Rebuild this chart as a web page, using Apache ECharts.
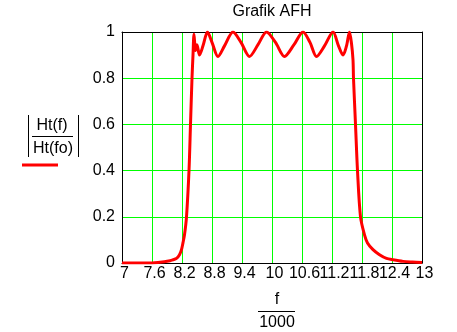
<!DOCTYPE html>
<html>
<head>
<meta charset="utf-8">
<script src="https://cdn.jsdelivr.net/npm/echarts@6/dist/echarts.min.js"></script>
<style>
  html, body { margin: 0; padding: 0; background: #fff; }
  #chart { width: 457px; height: 332px; }
</style>
</head>
<body>
<div id="chart"></div>
<script>
// Frequency axis values (f / 1000) and normalised magnitude |Ht(f)/Ht(fo)|
const freq = [
  7.00, 7.60, 7.72, 7.96, 8.02, 8.09, 8.15, 8.19, 8.22, 8.25, 8.29, 8.34, 8.37, 8.40,
  8.42, 8.44, 8.47, 8.50, 8.55, 8.62, 8.71, 8.80, 8.92, 9.05, 9.22, 9.38, 9.55, 9.72,
  9.89, 10.07, 10.25, 10.44, 10.62, 10.76, 10.89, 11.05, 11.22, 11.33, 11.42, 11.49,
  11.55, 11.59, 11.62, 11.63, 11.67, 11.71, 11.77, 11.85, 11.91, 12.02, 12.15, 12.29,
  12.42, 12.62, 12.81, 13.00
];
const amp = [
  0.000, 0.000, 0.002, 0.010, 0.014, 0.020, 0.036, 0.058, 0.088, 0.122, 0.200, 0.400, 0.600, 0.800,
  0.900, 0.990, 0.920, 0.945, 0.900, 0.940, 1.000, 0.955, 0.894, 0.940, 1.000, 0.955, 0.894, 0.945,
  1.000, 0.955, 0.894, 0.945, 1.000, 0.955, 0.894, 0.940, 1.000, 0.940, 0.900, 0.940,
  1.000, 0.950, 0.880, 0.800, 0.600, 0.400, 0.200, 0.122, 0.087, 0.058, 0.036, 0.020,
  0.014, 0.007, 0.004, 0.002
];
const xTicks = [7, 7.6, 8.2, 8.8, 9.4, 10, 10.6, 11.2, 11.8, 12.4, 13];
const yTicks = [0, 0.2, 0.4, 0.6, 0.8, 1];
const xStep = 0.6;
const yStep = 0.2;

const FONT = 'Liberation Sans, Arial, sans-serif';

function tickText(list, v) {
  let best = list[0];
  list.forEach(t => { if (Math.abs(t - v) < Math.abs(best - v)) best = t; });
  return String(best);
}

const chart = echarts.init(document.getElementById('chart'), null, { renderer: 'canvas' });

const plotLeft = 122, plotTop = 32, plotW = 300, plotH = 231;

chart.setOption({
  animation: false,
  backgroundColor: '#ffffff',
  grid: { left: plotLeft, top: plotTop, width: plotW, height: plotH, show: false },
  xAxis: [{
    type: 'value',
    min: xTicks[0], max: xTicks[xTicks.length - 1], interval: xStep,
    axisLine: { show: true, onZero: false, lineStyle: { color: '#000', width: 1 } },
    axisTick: { show: false },
    splitLine: { show: true, lineStyle: { color: '#00ff00', width: 1 } },
    axisLabel: {
      interval: 0, hideOverlap: false, showMinLabel: true, showMaxLabel: true,
      color: '#000', fontFamily: FONT, fontSize: 16, margin: 3, padding: [0, 0, 0, 5],
      formatter: v => tickText(xTicks, v)
    }
  }, {
    type: 'value', position: 'top',
    min: xTicks[0], max: xTicks[xTicks.length - 1], interval: xStep,
    axisLine: { show: true, onZero: false, lineStyle: { color: '#000', width: 1 } },
    axisTick: { show: false }, axisLabel: { show: false }, splitLine: { show: false }
  }],
  yAxis: [{
    type: 'value',
    min: yTicks[0], max: yTicks[yTicks.length - 1], interval: yStep,
    axisLine: { show: true, onZero: false, lineStyle: { color: '#000', width: 1 } },
    axisTick: { show: false },
    splitLine: { show: true, lineStyle: { color: '#00ff00', width: 1 } },
    axisLabel: {
      color: '#000', fontFamily: FONT, fontSize: 16, margin: 7, padding: [5, 0, 0, 0],
      showMinLabel: true, showMaxLabel: true,
      formatter: v => tickText(yTicks, v)
    }
  }, {
    type: 'value', position: 'right',
    min: yTicks[0], max: yTicks[yTicks.length - 1], interval: yStep,
    axisLine: { show: true, onZero: false, lineStyle: { color: '#000', width: 1 } },
    axisTick: { show: false }, axisLabel: { show: false }, splitLine: { show: false }
  }],
  series: [{
    type: 'line',
    data: freq.map((f, i) => [f, amp[i]]),
    showSymbol: false,
    smooth: 0.3,
    clip: true,
    lineStyle: { color: '#ff0000', width: 3 },
    z: 5
  }],
  graphic: [
    // chart title
    { type: 'text', x: 272, y: 12, style: { text: 'Grafik AFH', font: '16px ' + FONT, fill: '#000', textAlign: 'center', textVerticalAlign: 'middle' } },
    // vertical-axis expression |Ht(f) / Ht(fo)|
    { type: 'text', x: 52, y: 126, style: { text: 'Ht(f)', font: '16px ' + FONT, fill: '#000', textAlign: 'center', textVerticalAlign: 'middle' } },
    { type: 'line', shape: { x1: 32, y1: 136.5, x2: 73, y2: 136.5 }, style: { stroke: '#000', lineWidth: 1 } },
    { type: 'text', x: 53, y: 149, style: { text: 'Ht(fo)', font: '16px ' + FONT, fill: '#000', textAlign: 'center', textVerticalAlign: 'middle' } },
    { type: 'line', shape: { x1: 28.5, y1: 115, x2: 28.5, y2: 157 }, style: { stroke: '#000', lineWidth: 1 } },
    { type: 'line', shape: { x1: 78.5, y1: 115, x2: 78.5, y2: 157 }, style: { stroke: '#000', lineWidth: 1 } },
    // trace key under the expression
    { type: 'line', shape: { x1: 22, y1: 165, x2: 58, y2: 165 }, style: { stroke: '#ff0000', lineWidth: 3 } },
    // horizontal-axis expression f / 1000
    { type: 'text', x: 277, y: 300, style: { text: 'f', font: '16px ' + FONT, fill: '#000', textAlign: 'center', textVerticalAlign: 'middle' } },
    { type: 'line', shape: { x1: 258, y1: 311.5, x2: 295, y2: 311.5 }, style: { stroke: '#000', lineWidth: 1 } },
    { type: 'text', x: 277, y: 323, style: { text: '1000', font: '16px ' + FONT, fill: '#000', textAlign: 'center', textVerticalAlign: 'middle' } }
  ]
});
</script>
</body>
</html>
